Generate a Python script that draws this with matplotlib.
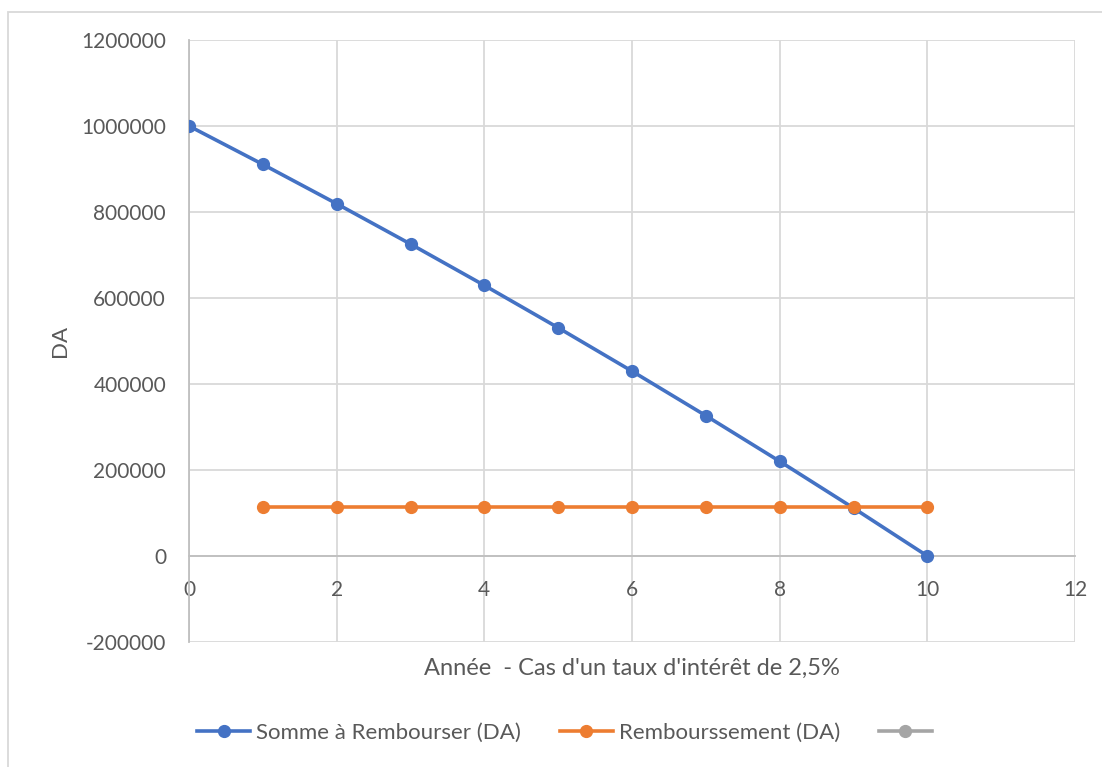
import matplotlib.pyplot as plt
from matplotlib.patches import Rectangle
from matplotlib.ticker import FuncFormatter

# loan of 1 000 000 DA at 2.5%
annees = [0, 1, 2, 3, 4, 5, 6, 7, 8, 9, 10]
somme = [1000000, 910741, 819251, 725473, 629351, 530826, 429838, 326325, 220224, 111471, 0]
annees_remb = [1, 2, 3, 4, 5, 6, 7, 8, 9, 10]
remboursement = [114259] * 10
vide_x = []
vide_y = []

x_ticks = [0, 2, 4, 6, 8, 10, 12]
y_ticks = [-200000, 0, 200000, 400000, 600000, 800000, 1000000, 1200000]

plt.rcParams['font.family'] = ['Lato', 'DejaVu Sans']
txt = '#595959'
grid = '#d9d9d9'

fig = plt.figure(figsize=(11.02, 7.67), dpi=100)
ax = fig.add_axes([189 / 1102, 1 - 642 / 767, (1075 - 189) / 1102, (642 - 40) / 767])

# chart border (cropped on right / bottom)
fig.patches.append(Rectangle((8 / 1102, -0.1), 1.2, 1.1 - 12 / 767, transform=fig.transFigure,
                             fill=False, edgecolor=grid, lw=1.3))

ax.plot(annees, somme, color='#4472c4', lw=2.6, marker='o', ms=8.5, label='Somme à Rembourser (DA)', zorder=3)
ax.plot(annees_remb, remboursement, color='#ed7d31', lw=2.6, marker='o', ms=8.5, label='Rembourssement (DA)', zorder=4)
ax.plot(vide_x, vide_y, color='#a5a5a5', lw=2.6, marker='o', ms=8.5, label=' ')

ax.set_xlim(0, 12)
ax.set_ylim(-200000, 1200000)
ax.set_xticks(x_ticks)
ax.set_yticks(y_ticks)
ax.yaxis.set_major_formatter(FuncFormatter(lambda v, p: str(int(v))))
ax.grid(True, color=grid, lw=1.3, zorder=0)
ax.set_axisbelow(True)

for s in ['top', 'right']:
    ax.spines[s].set_visible(False)
ax.spines['left'].set_color('#bfbfbf')
ax.spines['left'].set_linewidth(1.3)
ax.spines['bottom'].set_position(('data', 0))
ax.spines['bottom'].set_color('#bfbfbf')
ax.spines['bottom'].set_linewidth(1.3)

ax.tick_params(axis='both', length=0, labelsize=15, colors=txt)
ax.tick_params(axis='y', pad=16.5)
ax.tick_params(axis='x', pad=17)

ax.set_xlabel("Année  - Cas d'un taux d'intérêt de 2,5%", fontsize=17, color=txt)
ax.xaxis.set_label_coords(0.5, -0.026)
ax.set_ylabel('DA', fontsize=16, color=txt)
ax.yaxis.set_label_coords(-0.134, 0.5)

fig.legend(loc='center left', bbox_to_anchor=(177 / 1102, 1 - 733 / 767), ncol=3, frameon=False,
           fontsize=16, labelcolor=txt, handlelength=2.4, handletextpad=0.25, columnspacing=1.75)

plt.savefig('out.png', dpi=100)
